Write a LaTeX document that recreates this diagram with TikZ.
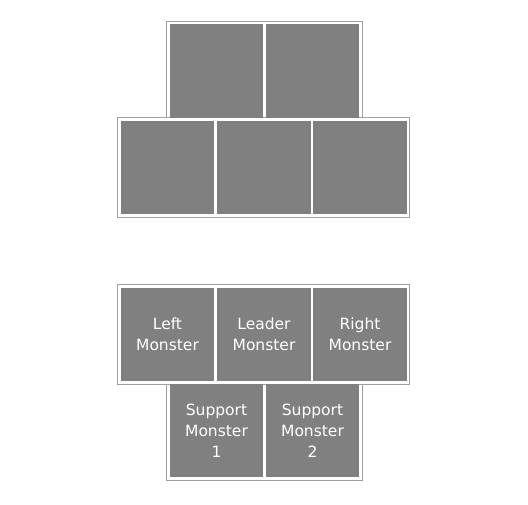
\documentclass[tikz,border=0pt]{standalone}
\usepackage{fontspec}
\setmainfont{DejaVu Sans}
\usetikzlibrary{fit,backgrounds}
\definecolor{slotgray}{HTML}{808080}
\definecolor{framegray}{HTML}{A0A0A0}
\begin{document}
\begin{tikzpicture}[x=1pt, y=-1pt,
        slot/.style={rectangle, fill=slotgray, minimum width=93.5pt, minimum height=93.5pt, inner sep=0pt, text=white, align=center, font=\fontsize{15.5}{21}\selectfont},
        frame/.style={rectangle, draw=framegray, fill=white, line width=0.8pt, inner sep=2.8pt}
      ]
      \useasboundingbox (0,0) rectangle (528,504);

      % Opponent formation (empty slots)
      \node[slot] (oppSup1) at (216.5,71) {};
      \node[slot] (oppSup2) at (312.5,71) {};
      \node[slot] (oppLeft) at (167.5,167.5) {};
      \node[slot] (oppLeader) at (264,167.5) {};
      \node[slot] (oppRight) at (360,167.5) {};

      % Own formation
      \node[slot] (left) at (167.5,334.5) {Left\\Monster};
      \node[slot] (leader) at (264,334.5) {Leader\\Monster};
      \node[slot] (right) at (360,334.5) {Right\\Monster};
      \node[slot] (sup1) at (216.5,430.5) {Support\\Monster\\1};
      \node[slot] (sup2) at (312.5,430.5) {Support\\Monster\\2};

      % Frames round each row
      \begin{scope}[on background layer]
        \node[frame, fit=(oppSup1)(oppSup2)] (oppBack) {};
        \node[frame, fit=(oppLeft)(oppRight)] (oppFront) {};
        \node[frame, fit=(sup1)(sup2)] (back) {};
        \node[frame, fit=(left)(right)] (front) {};
      \end{scope}
    \end{tikzpicture}
\end{document}
